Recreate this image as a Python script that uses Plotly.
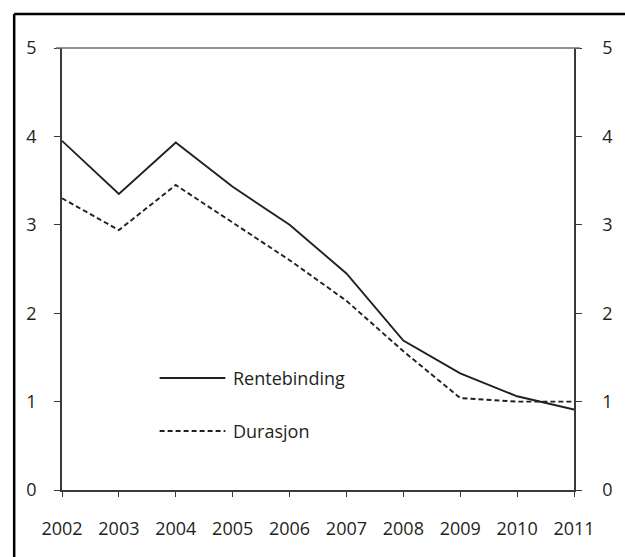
import plotly.graph_objects as go

years = [2002, 2003, 2004, 2005, 2006, 2007, 2008, 2009, 2010, 2011]
rentebinding = [3.95, 3.35, 3.93, 3.43, 3.00, 2.45, 1.69, 1.32, 1.06, 0.91]
durasjon = [3.30, 2.94, 3.45, 3.03, 2.60, 2.14, 1.57, 1.04, 1.00, 1.00]
y_ticks = [0, 1, 2, 3, 4, 5]
series_names = ["Rentebinding", "Durasjon"]

W, H = 625, 557
ML, MR, MT, MB = 62, 49, 48, 67
PW, PH = W - ML - MR, H - MT - MB

FONT = "Open Sans"
INK = "#231f20"
AX = "#3a3a3a"
FS = 18

fig = go.Figure()
fig.add_trace(go.Scatter(x=years, y=rentebinding, mode="lines", name=series_names[0],
                         line=dict(color=INK, width=1.9), showlegend=False))
fig.add_trace(go.Scatter(x=years, y=durasjon, mode="lines", name=series_names[1],
                         line=dict(color=INK, width=1.9, dash="5px,3px"), showlegend=False))
# invisible trace to activate right axis
fig.add_trace(go.Scatter(x=[years[0]], y=[None], yaxis="y2", showlegend=False, hoverinfo="skip"))

axis_font = dict(family=FONT, size=FS, color=INK)
fig.update_layout(
    width=W, height=H,
    margin=dict(l=ML, r=MR, t=MT, b=MB),
    paper_bgcolor="white", plot_bgcolor="white",
    xaxis=dict(range=[years[0], years[-1]], tickmode="array", tickvals=years,
               ticktext=[str(y) for y in years], showgrid=False, zeroline=False,
               showline=True, linecolor=AX, linewidth=1.5,
               ticks="outside", ticklen=5, tickcolor=AX, tickwidth=1,
               tickfont=axis_font, ticklabelstandoff=17),
    yaxis=dict(range=[0, 5], tickvals=y_ticks, showgrid=False, zeroline=False,
               showline=True, linecolor=AX, linewidth=1.5,
               ticks="outside", ticklen=6, tickcolor=AX, tickwidth=1,
               tickfont=axis_font, ticklabelstandoff=14),
    yaxis2=dict(range=[0, 5], tickvals=y_ticks, overlaying="y", side="right",
                showgrid=False, zeroline=False, showline=True, linecolor=AX, linewidth=1.5,
                ticks="outside", ticklen=6, tickcolor=AX, tickwidth=1,
                tickfont=axis_font, ticklabelstandoff=17),
    showlegend=False,
)

def px(xpix):
    return (xpix - ML) / PW

def py(ypix):
    return (H - MB - ypix) / PH

# top frame line of the plot area (lighter grey, extends over the ticks)
fig.add_shape(type="line", xref="paper", yref="paper", x0=px(56), x1=px(582), y0=1, y1=1,
              line=dict(color="#6e6e6e", width=1.5))

# outer frame (top and left edges visible)
fig.add_shape(type="line", xref="paper", yref="paper", x0=px(14), x1=px(640), y0=py(14), y1=py(14),
              line=dict(color="black", width=2.5))
fig.add_shape(type="line", xref="paper", yref="paper", x0=px(14), x1=px(14), y0=py(14), y1=py(570),
              line=dict(color="black", width=2.5))

# legend
leg = [(378, None), (431, "5px,3px")]
for (ly, dash), name in zip(leg, series_names):
    fig.add_shape(type="line", xref="paper", yref="paper", x0=px(160), x1=px(226), y0=py(ly), y1=py(ly),
                  line=dict(color=INK, width=1.9, dash=dash))
    fig.add_annotation(xref="paper", yref="paper", x=px(232), y=py(ly), text=name, showarrow=False,
                       xanchor="left", yanchor="middle", font=dict(family=FONT, size=FS, color=INK))

fig.write_html("out.html", config={"displayModeBar": False},
               post_script="document.body.style.margin='0';document.body.style.overflow='hidden';")
